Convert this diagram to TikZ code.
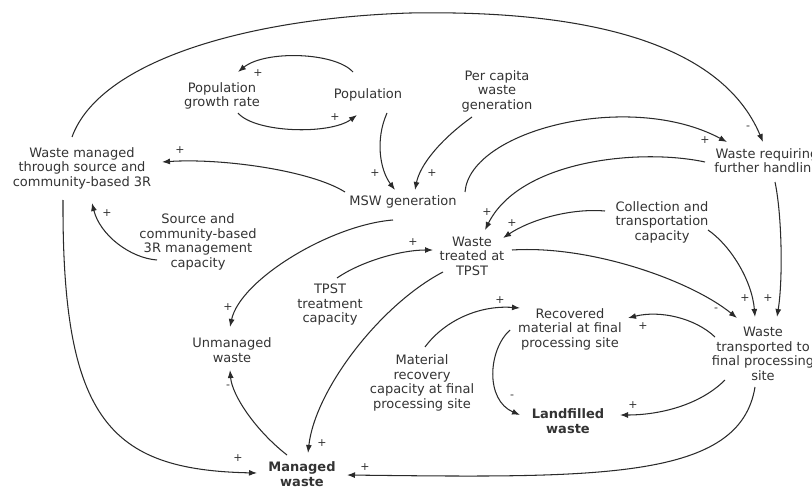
\documentclass[tikz,border=0pt]{standalone}
\usepackage{fontspec}
\setmainfont{DejaVu Sans}
\usetikzlibrary{arrows.meta}
\definecolor{ink}{HTML}{2A2A2A}
\definecolor{txtc}{HTML}{333333}
\begin{document}
\begin{tikzpicture}[x=1pt,y=1pt,
  lbl/.style={align=center,inner sep=0pt,text=txtc,font=\fontsize{13}{14.5}\selectfont},
  bold lbl/.style={lbl,font=\fontsize{13}{14.5}\selectfont\bfseries},
  sgn/.style={inner sep=0pt,text=txtc,font=\fontsize{11}{11}\selectfont},
  link/.style={draw=ink,line width=1.05pt,-{Latex[length=8pt,width=6pt]}}]
\useasboundingbox (0,0) rectangle (812,-487);

% variables
\node[lbl] (pop)   at (368,-95)  {Population};
\node[lbl] (pgr)   at (222,-96)  {Population\\growth rate};
\node[lbl] (pcw)   at (497,-91)  {Per capita\\waste\\generation};
\node[lbl] (msw)   at (403,-202) {MSW generation};
\node[lbl] (wm3r)  at (82,-168)  {Waste managed\\through source and\\community-based 3R};
\node[lbl] (s3r)   at (198,-242) {Source and\\community-based\\3R management\\capacity};
\node[lbl] (wrfh)  at (767,-162) {Waste requiring\\further handling};
\node[lbl] (ctc)   at (662,-222) {Collection and\\transportation\\capacity};
\node[lbl] (wtt)   at (472,-256) {Waste\\treated at\\TPST};
\node[lbl] (tpstc) at (330,-305) {TPST\\treatment\\capacity};
\node[lbl] (unm)   at (232,-350) {Unmanaged\\waste};
\node[lbl] (rec)   at (570,-329) {Recovered\\material at final\\processing site};
\node[lbl] (mrc)   at (422,-383) {Material\\recovery\\capacity at final\\processing site};
\node[lbl] (wtf)   at (763,-354) {Waste\\transported to\\final processing\\site};
\node[bold lbl] (land) at (568,-421) {Landfilled\\waste};
\node[bold lbl] (man)  at (302,-474) {Managed\\waste};

% causal links
\draw[link] ([shift={(-15,23)}]pop.center) .. controls (335,-52) and (265,-50) .. ([shift={(16,24)}]pgr.center);
\draw[link] ([shift={(16,-17)}]pgr.center) .. controls (255,-133) and (330,-135) .. ([shift={(-11,-20)}]pop.center);
\draw[link] ([shift={(19,-18)}]pop.center) .. controls (375,-140) and (380,-170) .. ([shift={(-8,12)}]msw.center);
\draw[link] ([shift={(-25,-26)}]pcw.center) .. controls (440,-140) and (420,-165) .. ([shift={(12,12)}]msw.center);
\draw[link] ([shift={(-58,10)}]msw.center) .. controls (310,-170) and (220,-158) .. ([shift={(80,6)}]wm3r.center);
\draw[link] ([shift={(-41,-18)}]s3r.center) .. controls (130,-258) and (100,-235) .. ([shift={(10,-35)}]wm3r.center);
\draw[link] ([shift={(-19,-32)}]wm3r.center) .. controls (62,-420) and (110,-470) .. ([shift={(-45,1)}]man.center);
\draw[link] ([shift={(-10,31)}]wm3r.center) .. controls (100,-60) and (250,-18) .. (410,-13)
            .. controls (580,-10) and (720,-40) .. ([shift={(-4,20)}]wrfh.center);
\draw[link] ([shift={(62,10)}]msw.center) .. controls (470,-130) and (630,-90) .. ([shift={(-40,20)}]wrfh.center);
\draw[link] ([shift={(-62,0)}]wrfh.center) .. controls (640,-148) and (520,-160) .. ([shift={(13,26)}]wtt.center);
\draw[link] ([shift={(-57,11)}]ctc.center) .. controls (570,-208) and (530,-220) .. ([shift={(31,18)}]wtt.center);
\draw[link] ([shift={(46,-8)}]ctc.center) .. controls (730,-245) and (752,-280) .. ([shift={(-8,37)}]wtf.center);
\draw[link] ([shift={(8,-20)}]wrfh.center) .. controls (782,-215) and (783,-280) .. ([shift={(14,37)}]wtf.center);
\draw[link] ([shift={(40,6)}]wtt.center) .. controls (590,-245) and (690,-280) .. ([shift={(-26,36)}]wtf.center);
\draw[link] ([shift={(-48,17)}]wtf.center) .. controls (695,-318) and (660,-310) .. ([shift={(58,11)}]rec.center);
\draw[link] ([shift={(3,36)}]mrc.center) .. controls (445,-320) and (480,-305) .. ([shift={(-50,21)}]rec.center);
\draw[link] ([shift={(-60,-1)}]rec.center) .. controls (488,-350) and (485,-400) .. ([shift={(-48,6)}]land.center);
\draw[link] ([shift={(-38,-26)}]wtf.center) .. controls (700,-405) and (660,-415) .. ([shift={(52,6)}]land.center);
\draw[link] ([shift={(-8,-33)}]wtf.center) .. controls (740,-480) and (600,-478) .. ([shift={(45,-1)}]man.center);
\draw[link] ([shift={(-29,-16)}]wtt.center) .. controls (380,-305) and (315,-390) .. ([shift={(6,21)}]man.center);
\draw[link] ([shift={(-15,19)}]man.center) .. controls (255,-430) and (232,-395) .. ([shift={(-2,-20)}]unm.center);
\draw[link] ([shift={(-10,-18)}]msw.center) .. controls (330,-225) and (240,-280) .. ([shift={(-2,23)}]unm.center);
\draw[link] ([shift={(7,27)}]tpstc.center) .. controls (360,-262) and (400,-250) .. ([shift={(-39,6)}]wtt.center);

% link polarities
\node[sgn] (g1)  at (258,-73)  {+};
\node[sgn] (g2)  at (335,-117) {+};
\node[sgn] (g3)  at (375,-173) {+};
\node[sgn] (g4)  at (432,-173) {+};
\node[sgn] (g5)  at (180,-150) {+};
\node[sgn] (g6)  at (107,-213) {+};
\node[sgn] (g7)  at (238,-458) {+};
\node[sgn] (g8)  at (748,-128) {-};
\node[sgn] (g9)  at (705,-140) {+};
\node[sgn] (g10) at (487,-212) {+};
\node[sgn] (g11) at (512,-223) {+};
\node[sgn] (g12) at (745,-298) {+};
\node[sgn] (g13) at (768,-298) {+};
\node[sgn] (g14) at (716,-310) {-};
\node[sgn] (g15) at (643,-326) {+};
\node[sgn] (g16) at (500,-300) {+};
\node[sgn] (g17) at (512,-397) {-};
\node[sgn] (g18) at (633,-405) {+};
\node[sgn] (g19) at (365,-467) {+};
\node[sgn] (g20) at (322,-443) {+};
\node[sgn] (g21) at (228,-387) {-};
\node[sgn] (g22) at (228,-307) {+};
\node[sgn] (g23) at (413,-242) {+};
\end{tikzpicture}
\end{document}
